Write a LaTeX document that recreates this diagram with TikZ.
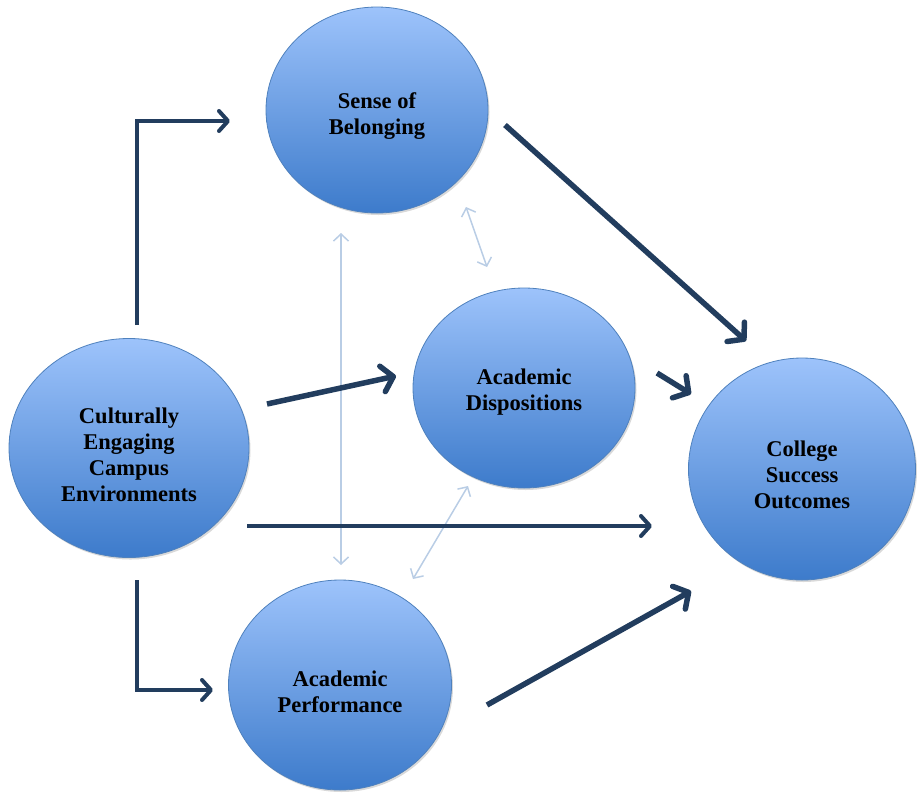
\documentclass[tikz,border=0pt]{standalone}
\usepackage{fontspec}
\setmainfont{Liberation Serif}
\usetikzlibrary{arrows.meta,shapes.geometric,shadows}
\definecolor{navy}{HTML}{223D5E}
\definecolor{lightarr}{HTML}{B9CDE5}
\definecolor{topblue}{HTML}{9DC3FB}
\definecolor{botblue}{HTML}{3D7BCB}
\definecolor{rimblue}{HTML}{4F81BD}
\tikzset{
  bubble/.style={ellipse, draw=rimblue, line width=0.8pt, top color=topblue, bottom color=botblue,
    inner sep=0pt,
    drop shadow={shadow xshift=1.5pt, shadow yshift=-2pt, opacity=0.25, fill=black!60}},
  label text/.style={align=center, font=\bfseries\fontsize{22.5}{26}\selectfont, inner sep=0pt},
  mainarr/.style={draw=navy, line width=5.5pt, -{Straight Barb[length=11pt,width=26pt,line width=5.5pt,round]}},
  elbowarr/.style={draw=navy, line width=4pt, -{Straight Barb[length=9pt,width=20pt,line width=4pt,round]}},
  lightarr/.style={draw=lightarr, line width=1.5pt, {Straight Barb[length=7pt,width=15pt,line width=1.5pt]}-{Straight Barb[length=7pt,width=15pt,line width=1.5pt]}}
}
\begin{document}
\begin{tikzpicture}[x=1pt,y=-1pt]
\useasboundingbox (0,0) rectangle (917,793);
\node[bubble, minimum width=222pt, minimum height=206pt] (sob) at (377,110) {};
\node[bubble, minimum width=240pt, minimum height=219pt] (ce) at (129,448) {};
\node[bubble, minimum width=222pt, minimum height=200pt] (ad) at (524,388) {};
\node[bubble, minimum width=227pt, minimum height=222pt] (cso) at (802,469) {};
\node[bubble, minimum width=223pt, minimum height=210pt] (ap) at (340,685) {};

\node[label text] (sobt) at (377,116) {Sense of\\Belonging};
\node[label text] (cet) at (129,455) {Culturally\\Engaging\\Campus\\Environments};
\node[label text] (adt) at (524,392) {Academic\\Dispositions};
\node[label text] (csot) at (802,475) {College\\Success\\Outcomes};
\node[label text] (apt) at (340,692) {Academic\\Performance};

% endpoints
\coordinate (e1s) at (137,325);
\coordinate (e1t) at (230,121);
\coordinate (a2s) at (267,404);
\coordinate (a2t) at (396,376);
\coordinate (a3s) at (505,125);
\coordinate (a3t) at (746,341);
\coordinate (a4s) at (657,373);
\coordinate (a4t) at (691,394);
\coordinate (a5s) at (247,526);
\coordinate (a5t) at (652,526);
\coordinate (e6s) at (137,580);
\coordinate (e6t) at (213,690);
\coordinate (a7s) at (487,705);
\coordinate (a7t) at (691,591);
\coordinate (l1s) at (341,233);
\coordinate (l1t) at (341,565);
\coordinate (l2s) at (466,207);
\coordinate (l2t) at (487,267);
\coordinate (l3s) at (468,486);
\coordinate (l3t) at (413,579);

\draw[lightarr] (l1s) -- (l1t);
\draw[lightarr] (l2s) -- (l2t);
\draw[lightarr] (l3s) -- (l3t);

\draw[elbowarr] (e1s) |- (e1t);
\draw[mainarr] (a2s) -- (a2t);
\draw[mainarr] (a3s) -- (a3t);
\draw[mainarr] (a4s) -- (a4t);
\draw[elbowarr] (a5s) -- (a5t);
\draw[elbowarr] (e6s) |- (e6t);
\draw[mainarr] (a7s) -- (a7t);
\end{tikzpicture}
\end{document}
